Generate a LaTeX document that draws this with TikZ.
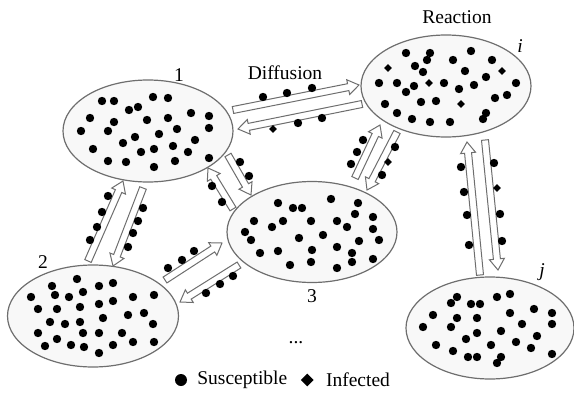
\documentclass[tikz,border=0pt]{standalone}
\usepackage{fontspec}
\setmainfont{Liberation Serif}
\usetikzlibrary{calc,positioning,shapes.geometric}
\definecolor{cellgray}{HTML}{6E6E6E}
\definecolor{cellfill}{HTML}{F8F8F8}
\tikzset{
  cell/.style={ellipse, draw=cellgray, fill=cellfill, line width=1.2pt, minimum width=170pt, minimum height=102pt, inner sep=0pt},
  flowline/.style={draw=cellgray, fill=white, line width=1pt, line join=miter},
  info/.style={font=\fontsize{19.5}{23}\selectfont, inner sep=0pt},
  sdot/.style={circle, fill=black, inner sep=0pt, minimum size=8.4pt},
  idot/.style={diamond, fill=black, inner sep=0pt, minimum size=8pt}
}
% hollow arrow from #1 to #2
\newcommand{\flowarrow}[2]{%
  \coordinate (fb) at ($(#2)!11pt!(#1)$);
  \draw[flowline] ($(#1)!3.5pt!90:(#2)$) -- ($(fb)!3.5pt!-90:(#1)$) -- ($(fb)!7.5pt!-90:(#1)$) -- (#2)
    -- ($(fb)!7.5pt!90:(#1)$) -- ($(fb)!3.5pt!90:(#1)$) -- ($(#1)!3.5pt!-90:(#2)$) -- cycle;}

\begin{document}
\begin{tikzpicture}[x=1pt, y=-1pt]
  \useasboundingbox (0,0) rectangle (574,394);
  % patches
  \node[cell] (c1) at (148,131) {};
  \node[cell] (ci) at (446,86) {};
  \node[cell, minimum width=171pt] (c2) at (93,316) {};
  \node[cell, minimum height=101pt] (c3) at (312,232) {};
  \node[cell, minimum width=168pt] (cj) at (490,328) {};
  % labels
  \node[info, anchor=base] (n1) at (179,81) {1};
  \node[info, anchor=base] (diff) at (285,79) {Diffusion};
  \node[info, anchor=base] (react) at (457,23) {Reaction};
  \node[info, anchor=base] (ni) at (520,52) {\textit{i}};
  \node[info, anchor=base] (n2) at (43,268) {2};
  \node[info, anchor=base] (n3) at (312,302) {3};
  \node[info, anchor=base] (nj) at (542,276) {\textit{j}};
  \node[info, anchor=base] (more) at (296,343) {...};
  % arrow ends
  \coordinate (1is) at (233,110);  \coordinate (1ie) at (359,85);
  \coordinate (i1s) at (362,104);  \coordinate (i1e) at (238,129);
  \coordinate (13s) at (228,155);  \coordinate (13e) at (251,195);
  \coordinate (31s) at (233,209);  \coordinate (31e) at (208,168);
  \coordinate (3is) at (355,178);  \coordinate (3ie) at (380,125);
  \coordinate (i3s) at (397,132);  \coordinate (i3e) at (367,190);
  \coordinate (jis) at (480,275);  \coordinate (jie) at (467,142);
  \coordinate (ijs) at (485,140);  \coordinate (ije) at (498,270);
  \coordinate (21s) at (88,261);   \coordinate (21e) at (123,181);
  \coordinate (12s) at (143,188);  \coordinate (12e) at (113,266);
  \coordinate (23s) at (165,280);  \coordinate (23e) at (222,243);
  \coordinate (32s) at (239,265);  \coordinate (32e) at (180,302);
  \flowarrow{1is}{1ie} \flowarrow{i1s}{i1e}
  \flowarrow{13s}{13e} \flowarrow{31s}{31e}
  \flowarrow{3is}{3ie} \flowarrow{i3s}{i3e}
  \flowarrow{jis}{jie} \flowarrow{ijs}{ije}
  \flowarrow{21s}{21e} \flowarrow{12s}{12e}
  \flowarrow{23s}{23e} \flowarrow{32s}{32e}
  % individuals in patch 1
  \foreach \p [count=\k] in {(102,101),(114,101),(153,97),(168,98),(129,110),(138,107),(90,118),(114,122),
      (147,120),(168,118),(191,113),(209,116),(209,128),(81,131),(108,131),(135,137),(159,134),(177,129),
      (195,140),(123,143),(93,149),(141,152),(154,149),(173,146),(188,152),(209,158),(108,161),(126,162),
      (154,167),(175,161)}
    \node[sdot] (s1-\k) at \p {};
  % individuals in patch i
  \foreach \p [count=\k] in {(406,53),(430,53),(427,60),(471,51),(453,60),(492,60),(415,66),(423,72),
      (465,71),(486,77),(379,83),(397,83),(414,86),(406,92),(444,83),(459,89),(474,85),(516,83),
      (385,104),(421,102),(436,101),(495,98),(507,95),(397,113),(412,119),(430,122),(450,122),
      (486,113),(483,119)}
    \node[sdot] (si-\k) at \p {};
  \foreach \p [count=\k] in {(388,68),(502,71),(429,83),(461,104)}
    \node[idot] (ii-\k) at \p {};
  % individuals in patch 2
  \foreach \p [count=\k] in {(77,279),(52,286),(99,286),(113,283),(55,295),(69,297),(83,292),(31,297),
      (154,295),(133,297),(113,301),(99,304),(80,307),(38,309),(57,309),(128,315),(144,313),(103,318),
      (50,322),(65,324),(80,322),(153,324),(38,333),(57,339),(83,333),(99,333),(122,333),(45,346),
      (71,345),(84,347),(113,345),(133,342),(154,342),(99,353)}
    \node[sdot] (s2-\k) at \p {};
  % individuals in patch 3
  \foreach \p [count=\k] in {(278,203),(293,208),(302,208),(331,199),(358,203),(254,221),(272,227),
      (283,221),(311,221),(337,221),(355,214),(347,227),(373,217),(373,229),(245,232),(251,240),
      (299,238),(323,235),(359,241),(379,240),(260,253),(278,251),(312,250),(337,247),(352,253),
      (290,265),(311,262),(337,268),(352,262),(373,259)}
    \node[sdot] (s3-\k) at \p {};
  % individuals in patch j
  \foreach \p [count=\k] in {(457,297),(451,303),(471,304),(480,304),(497,297),(510,294),(433,315),
      (457,318),(477,318),(510,313),(534,309),(552,313),(423,327),(451,327),(477,333),(501,331),
      (522,324),(552,324),(537,336),(466,339),(436,345),(491,345),(516,342),(531,348),(453,351),
      (468,357),(477,357),(501,357),(497,363),(552,354)}
    \node[sdot] (sj-\k) at \p {};
  % moving individuals
  \foreach \p [count=\k] in {(263,97),(287,93),(312,88),(298,123),(322,118),(240,162),(249,176),
      (212,186),(222,202),(363,140),(357,152),(351,164),(395,147),(382,175),(461,167),(464,192),
      (467,215),(469,245),(494,163),(500,214),(502,241),(108,196),(102,212),(97,227),(90,240),
      (143,208),(138,221),(133,233),(128,247),(168,268),(182,260),(194,251),(206,293),(220,284),
      (233,276)}
    \node[sdot] (sm-\k) at \p {};
  \foreach \p [count=\k] in {(273,129),(388,162),(497,188)}
    \node[idot] (im-\k) at \p {};
  % legend
  \node[sdot, minimum size=12pt] (legs) at (181,380) {};
  \node[info, right=10pt of legs] (legstext) {Susceptible};
  \node[idot, minimum size=13pt, right=13pt of legstext] (legi) {};
  \node[info, right=12pt of legi] (legitext) {Infected};
\end{tikzpicture}
\end{document}
